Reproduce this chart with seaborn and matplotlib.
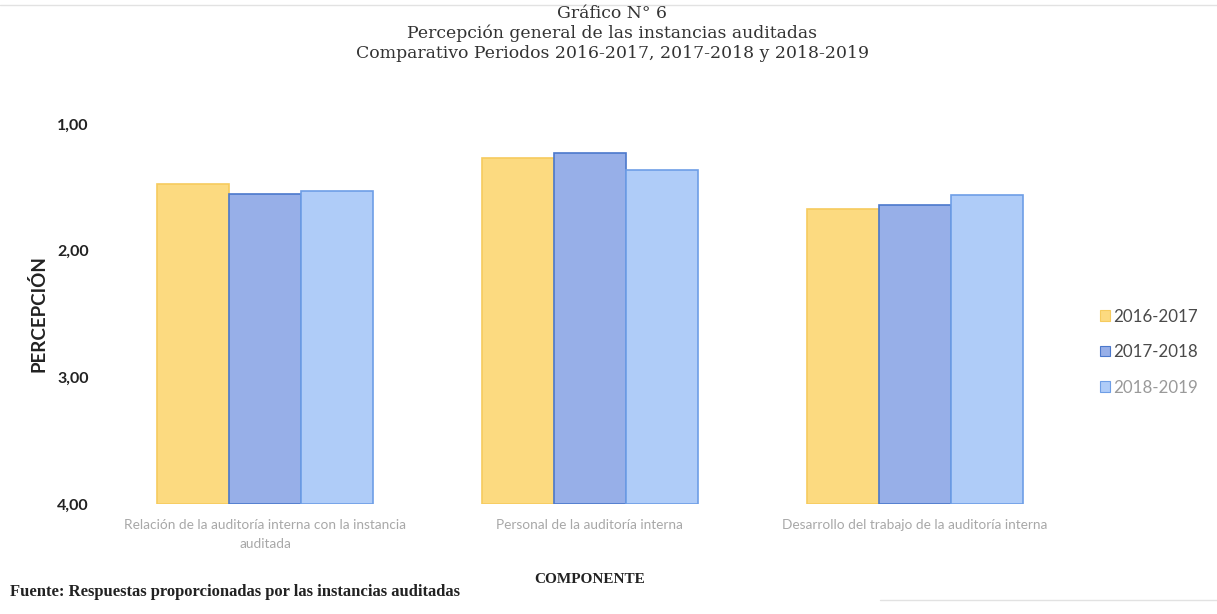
import pandas as pd
import matplotlib
matplotlib.use("Agg")
import matplotlib.pyplot as plt
from matplotlib.lines import Line2D
from matplotlib.ticker import FixedLocator, FuncFormatter
import seaborn as sns

# Datos (escala de percepcion: 1 = mejor, 4 = peor)
componentes = [
    "Relación de la auditoría interna con la instancia\nauditada",
    "Personal de la auditoría interna",
    "Desarrollo del trabajo de la auditoría interna",
]
periodos = ["2016-2017", "2017-2018", "2018-2019"]
valores_2016_2017 = [1.47, 1.27, 1.67]
valores_2017_2018 = [1.55, 1.23, 1.64]
valores_2018_2019 = [1.53, 1.36, 1.56]
marcas_eje = [1.00, 2.00, 3.00, 4.00]
escala_max = 4.00  # las barras nacen en 4,00 y el eje esta invertido

colores = ["#FCDA80", "#97AFE8", "#AFCCF8"]
bordes = ["#F6CB5E", "#4B78CC", "#6E9EE6"]
color_leyenda = ["#4a4a4a", "#4a4a4a", "#9a9a9a"]

df = pd.DataFrame({
    "componente": componentes * len(periodos),
    "periodo": [p for p in periodos for _ in componentes],
    "valor": valores_2016_2017 + valores_2017_2018 + valores_2018_2019,
})
# altura de la barra medida desde 4,00 hacia arriba
df["altura"] = escala_max - df["valor"]

sns.set_style("white")
plt.rcParams["font.family"] = ["Lato", "DejaVu Sans"]

fig = plt.figure(figsize=(12.17, 6.14), dpi=100)
ax = fig.add_axes([0.0842, 0.179, 0.801, 0.619])

sns.barplot(data=df, x="componente", y="altura", hue="periodo",
            hue_order=periodos, palette=colores, width=0.665, gap=0,
            saturation=1, linewidth=1.2, ax=ax, legend=False)

for cont, borde in zip(ax.containers, bordes):
    for barra in cont:
        barra.set_edgecolor(borde)

# eje Y: posicion 0 = 4,00 ; posicion 3 = 1,00
ax.set_ylim(0, escala_max - min(marcas_eje))
ax.yaxis.set_major_locator(FixedLocator([escala_max - m for m in marcas_eje]))
ax.yaxis.set_major_formatter(
    FuncFormatter(lambda t, pos: f"{escala_max - t:.2f}".replace(".", ",")))
ax.set_xlim(-0.5, len(componentes) - 0.5)

for s in ax.spines.values():
    s.set_visible(False)
ax.tick_params(axis="y", length=0, pad=10, labelsize=11.5, labelcolor="#222222")
for lab in ax.get_yticklabels():
    lab.set_fontweight("bold")
ax.tick_params(axis="x", length=0, pad=11, labelsize=9.8, labelcolor="#a8a8a8")
for lab in ax.get_xticklabels():
    lab.set_linespacing(1.7)

ax.set_ylabel("PERCEPCIÓN", fontsize=13.5, fontweight="bold", color="#222222")
ax.yaxis.set_label_coords(-0.056, 0.5)
ax.set_xlabel("COMPONENTE", fontsize=11, fontweight="bold", color="#222222",
              family=["Liberation Serif", "DejaVu Serif"])
ax.xaxis.set_label_coords(0.5, -0.18)

# leyenda a la derecha
handles = [plt.Rectangle((0, 0), 1, 1, facecolor=c, edgecolor=b, lw=0.8)
           for c, b in zip(colores, bordes)]
leg = ax.legend(handles, periodos, loc="center left",
                bbox_to_anchor=(1.015, 0.40), frameon=False, fontsize=12.2,
                handlelength=0.55, handleheight=0.55, handletextpad=0.2,
                labelspacing=1.15, borderpad=0)
for txt, c in zip(leg.get_texts(), color_leyenda):
    txt.set_color(c)

fig.text(612 / 1217, 1 - 5 / 614,
         "Gráfico N° 6\nPercepción general de las instancias auditadas\n"
         "Comparativo Periodos 2016-2017, 2017-2018 y 2018-2019",
         ha="center", va="top", fontsize=12.4, linespacing=1.2,
         color="#333333", family=["DejaVu Serif"])

fig.text(10 / 1217, 1 - 592 / 614,
         "Fuente: Respuestas proporcionadas por las instancias auditadas",
         ha="left", va="center", fontsize=12, fontweight="bold",
         color="#222222", family=["Liberation Serif", "DejaVu Serif"])

# bordes tenues del documento escaneado
fig.add_artist(Line2D([0, 1], [0.992, 0.992], color="#e2e2e2", lw=1))
fig.add_artist(Line2D([880 / 1217, 1], [1 - 600 / 614, 1 - 600 / 614],
                      color="#e2e2e2", lw=1))

fig.savefig("out.png", dpi=100)
